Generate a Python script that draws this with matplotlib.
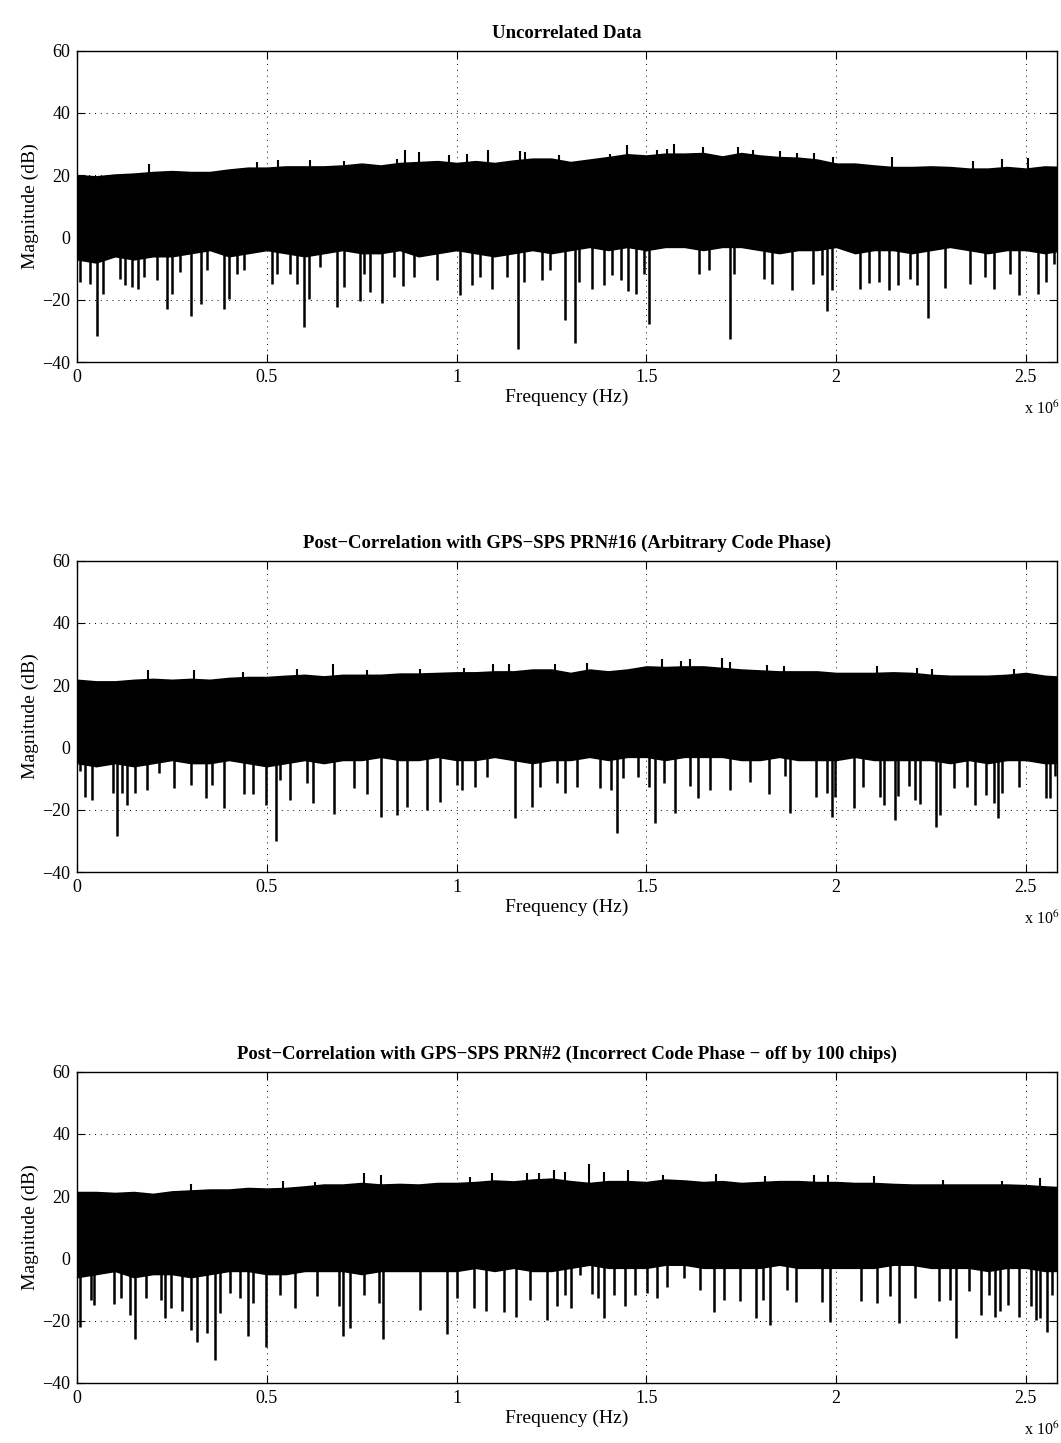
import numpy as np
import matplotlib.pyplot as plt

plt.rcParams['font.family'] = ['Liberation Serif', 'DejaVu Serif']
plt.rcParams['mathtext.fontset'] = 'stix'
plt.rcParams['font.size'] = 13

# frequency grid (MHz) of the envelope readings
f_env = np.round(np.arange(0, 2.61, 0.05), 2)

titles = ['Uncorrelated Data',
          'Post\u2212Correlation with GPS\u2212SPS PRN#16 (Arbitrary Code Phase)',
          'Post\u2212Correlation with GPS\u2212SPS PRN#2 (Incorrect Code Phase \u2212 off by 100 chips)']

# ---- panel 1: uncorrelated data
top1 = [20.0, 19.6, 20.2, 20.5, 21.0, 21.3, 21.0, 21.0, 21.8, 22.4, 22.4, 22.8, 22.8, 22.8,
        23.1, 23.7, 23.1, 23.9, 24.2, 24.5, 23.9, 24.5, 23.9, 24.7, 25.3, 25.3, 24.2, 25.0,
        25.8, 26.7, 26.3, 26.9, 26.9, 27.1, 26.0, 27.1, 26.3, 25.8, 25.6, 25.0, 23.7, 23.7,
        23.1, 22.6, 22.6, 22.8, 22.6, 22.1, 22.1, 22.6, 22.1, 22.8, 22.6]
bot1 = [-7, -8, -6, -7, -6, -6, -5, -4, -6, -5, -4, -5, -6, -5, -4, -5, -5, -4, -6, -5,
        -4, -5, -6, -5, -4, -5, -4, -3, -4, -3, -4, -3, -3, -4, -3, -3, -4, -5, -4, -4,
        -3, -5, -4, -4, -5, -4, -3, -4, -5, -4, -4, -5, -4]
peak1_f = [0.19, 0.474, 0.53, 0.615, 0.703, 0.843, 0.865, 0.9, 0.98, 1.027, 1.083, 1.166,
           1.181, 1.269, 1.405, 1.449, 1.528, 1.554, 1.572, 1.649, 1.741, 1.78, 1.853,
           1.897, 1.941, 1.993, 2.147, 2.362, 2.437, 2.505]
peak1_v = [23.7, 24.2, 25.0, 25.0, 24.7, 25.3, 28.2, 27.4, 26.4, 26.9, 28.2, 27.7, 27.4,
           26.4, 26.9, 29.6, 28.2, 28.5, 29.9, 29.2, 29.2, 28.0, 27.7, 27.1, 27.1, 26.0,
           26.0, 24.7, 25.3, 25.6]
dip1_f = [0.009, 0.035, 0.053, 0.068, 0.114, 0.127, 0.145, 0.161, 0.176, 0.211, 0.237,
          0.25, 0.272, 0.299, 0.327, 0.342, 0.386, 0.4, 0.421, 0.439, 0.514, 0.527, 0.562,
          0.58, 0.597, 0.612, 0.641, 0.685, 0.703, 0.746, 0.755, 0.773, 0.803, 0.834,
          0.859, 0.887, 0.948, 1.008, 1.041, 1.063, 1.093, 1.133, 1.161, 1.177, 1.225,
          1.247, 1.286, 1.313, 1.322, 1.357, 1.389, 1.41, 1.432, 1.452, 1.473, 1.495,
          1.506, 1.638, 1.664, 1.72, 1.73, 1.809, 1.831, 1.884, 1.939, 1.963, 1.976,
          1.989, 2.064, 2.086, 2.112, 2.14, 2.163, 2.195, 2.213, 2.242, 2.286, 2.352,
          2.393, 2.415, 2.459, 2.481, 2.532, 2.553, 2.575]
dip1_v = [-14.3, -14.8, -31.7, -18.0, -13.2, -15.3, -15.9, -16.7, -12.7, -13.7, -23.1,
          -18.0, -11.0, -25.3, -21.5, -10.5, -23.1, -19.9, -11.6, -10.5, -14.8, -11.6,
          -11.6, -15.0, -28.7, -19.6, -9.4, -22.3, -15.9, -20.3, -11.6, -17.5, -21.0,
          -12.7, -15.6, -12.7, -13.7, -18.5, -15.3, -12.7, -16.7, -12.7, -35.9, -14.3,
          -13.5, -10.5, -26.5, -34.0, -14.3, -16.7, -15.3, -12.1, -13.5, -17.2, -18.2,
          -11.6, -27.8, -11.6, -10.5, -32.7, -11.6, -13.2, -14.8, -16.9, -15.0, -12.1,
          -23.7, -16.9, -16.7, -14.6, -14.3, -16.9, -15.3, -13.2, -15.3, -26.0, -16.1,
          -15.0, -12.7, -16.7, -11.8, -18.5, -18.0, -14.3, -8.4]

# ---- panel 2: PRN#16, arbitrary code phase
top2 = [21.7, 21.2, 21.2, 21.7, 22.0, 21.7, 22.0, 21.7, 22.3, 22.6, 22.6, 23.0, 23.3, 22.8,
        23.3, 23.3, 23.3, 23.7, 23.7, 23.9, 24.1, 24.1, 24.4, 24.4, 25.0, 25.0, 23.9, 25.0,
        24.4, 25.0, 26.0, 25.8, 26.0, 26.0, 25.5, 25.0, 24.7, 24.4, 24.4, 24.4, 23.9, 23.9,
        23.9, 24.1, 23.9, 23.3, 23.0, 23.0, 23.0, 23.3, 23.9, 23.0, 22.6]
bot2 = [-5, -6, -5, -6, -5, -4, -5, -5, -4, -5, -6, -5, -4, -5, -4, -4, -3, -4, -4, -3,
        -4, -4, -3, -4, -5, -4, -4, -3, -4, -3, -3, -4, -3, -3, -3, -4, -4, -3, -4, -4,
        -4, -3, -4, -4, -4, -4, -5, -4, -5, -4, -4, -5, -5]
peak2_f = [0.187, 0.309, 0.436, 0.58, 0.674, 0.764, 0.903, 1.019, 1.096, 1.137, 1.26,
           1.345, 1.541, 1.591, 1.616, 1.699, 1.721, 1.818, 1.862, 2.109, 2.213, 2.253,
           2.468]
peak2_v = [25.0, 25.0, 24.1, 25.2, 26.8, 25.0, 25.2, 25.5, 26.9, 26.8, 26.9, 27.1, 28.4,
           27.6, 28.5, 28.7, 27.3, 26.6, 26.0, 26.0, 25.5, 25.2, 25.2]
dip2_f = [0.009, 0.022, 0.04, 0.095, 0.105, 0.119, 0.132, 0.154, 0.184, 0.215, 0.255,
          0.299, 0.341, 0.356, 0.386, 0.439, 0.464, 0.499, 0.523, 0.536, 0.562, 0.606,
          0.623, 0.676, 0.729, 0.764, 0.801, 0.843, 0.869, 0.922, 0.957, 1.001, 1.014,
          1.049, 1.08, 1.155, 1.199, 1.219, 1.264, 1.286, 1.317, 1.379, 1.408, 1.423,
          1.439, 1.477, 1.506, 1.524, 1.547, 1.575, 1.616, 1.636, 1.669, 1.721, 1.772,
          1.822, 1.866, 1.879, 1.948, 1.976, 1.989, 1.998, 2.046, 2.071, 2.116, 2.125,
          2.156, 2.163, 2.191, 2.209, 2.22, 2.264, 2.273, 2.312, 2.345, 2.367, 2.396,
          2.417, 2.426, 2.437, 2.483, 2.554, 2.564, 2.576]
dip2_v = [-7.7, -15.8, -16.8, -14.7, -28.4, -14.7, -18.5, -14.7, -13.6, -8.3, -13.1,
          -12.0, -16.3, -12.0, -19.5, -14.9, -14.9, -18.5, -30.2, -10.4, -16.8, -11.5,
          -17.7, -21.3, -13.1, -14.9, -22.2, -21.7, -19.0, -20.1, -17.4, -12.0, -13.8,
          -12.6, -9.6, -22.7, -19.0, -12.6, -11.5, -14.5, -12.6, -13.1, -13.6, -27.6,
          -9.9, -9.6, -12.6, -24.4, -11.5, -20.9, -12.4, -16.3, -13.6, -13.6, -11.0,
          -14.9, -9.1, -20.9, -15.8, -14.7, -22.2, -15.8, -19.5, -12.6, -15.8, -18.5,
          -23.3, -15.6, -12.4, -16.8, -18.1, -25.6, -21.7, -13.1, -12.6, -18.5, -15.2,
          -17.7, -22.7, -14.7, -12.6, -16.3, -16.3, -9.3]

# ---- panel 3: PRN#2, incorrect code phase
top3 = [21.3, 21.3, 21.0, 21.3, 20.7, 21.5, 21.8, 22.1, 22.1, 22.6, 22.4, 22.6, 23.1, 23.7,
        23.7, 24.2, 23.7, 23.9, 23.7, 24.2, 24.2, 24.5, 25.0, 24.7, 25.3, 25.6, 24.8, 24.2,
        24.8, 24.8, 24.5, 25.3, 25.0, 24.5, 24.8, 24.2, 24.5, 24.8, 24.8, 24.5, 24.5, 24.2,
        24.2, 23.9, 23.7, 23.7, 23.7, 23.7, 23.7, 23.7, 23.5, 23.1, 22.8]
bot3 = [-6, -5, -4, -6, -5, -5, -6, -5, -4, -4, -5, -5, -4, -4, -4, -5, -4, -4, -4, -4,
        -4, -3, -4, -3, -4, -4, -3, -2, -3, -3, -3, -2, -2, -3, -3, -3, -3, -2, -3, -3,
        -3, -3, -3, -2, -2, -3, -3, -3, -4, -3, -3, -4, -4]
peak3_f = [0.299, 0.544, 0.628, 0.755, 0.801, 1.036, 1.093, 1.185, 1.216, 1.257, 1.286,
           1.348, 1.388, 1.451, 1.544, 1.684, 1.813, 1.941, 1.979, 2.099, 2.283, 2.437,
           2.538]
peak3_v = [24.0, 24.8, 24.5, 27.4, 26.7, 26.3, 27.4, 27.4, 27.4, 28.5, 27.9, 30.3, 27.8,
           28.5, 26.7, 27.1, 26.4, 26.7, 26.9, 26.4, 25.3, 25.0, 25.8]
dip3_f = [0.009, 0.037, 0.046, 0.098, 0.116, 0.14, 0.154, 0.183, 0.22, 0.233, 0.248,
          0.277, 0.299, 0.316, 0.342, 0.363, 0.378, 0.404, 0.43, 0.45, 0.463, 0.498,
          0.536, 0.575, 0.632, 0.689, 0.701, 0.72, 0.755, 0.795, 0.806, 0.904, 0.975,
          1.001, 1.045, 1.078, 1.126, 1.157, 1.194, 1.238, 1.264, 1.286, 1.302, 1.326,
          1.357, 1.374, 1.388, 1.414, 1.445, 1.471, 1.502, 1.528, 1.554, 1.598, 1.641,
          1.679, 1.704, 1.748, 1.79, 1.807, 1.827, 1.871, 1.895, 1.963, 1.985, 2.066,
          2.109, 2.141, 2.165, 2.209, 2.27, 2.301, 2.317, 2.349, 2.382, 2.404, 2.419,
          2.433, 2.452, 2.483, 2.513, 2.527, 2.536, 2.556, 2.569]
dip3_v = [-21.9, -13.3, -15.1, -14.7, -12.8, -18.1, -25.8, -12.8, -13.3, -19.0, -16.0,
          -16.8, -22.9, -26.9, -24.0, -32.6, -17.6, -11.2, -12.8, -24.8, -14.4, -28.3,
          -11.7, -16.0, -12.2, -15.4, -24.8, -22.4, -11.7, -14.4, -25.8, -16.5, -24.3,
          -12.8, -16.0, -16.8, -17.3, -18.7, -13.3, -19.7, -15.4, -11.9, -15.8, -5.3,
          -11.5, -12.8, -19.0, -11.7, -15.4, -11.9, -11.2, -12.8, -9.3, -6.3, -10.1,
          -17.3, -13.3, -13.6, -19.2, -13.3, -21.3, -10.1, -14.0, -14.0, -20.5, -13.8,
          -14.4, -12.2, -20.8, -12.8, -13.6, -13.3, -25.4, -10.4, -18.3, -11.7, -18.7,
          -17.0, -14.9, -18.7, -15.4, -19.7, -19.2, -23.5, -11.7]

panels = [(top1, bot1, peak1_f, peak1_v, dip1_f, dip1_v),
          (top2, bot2, peak2_f, peak2_v, dip2_f, dip2_v),
          (top3, bot3, peak3_f, peak3_v, dip3_f, dip3_v)]

fig = plt.figure(figsize=(10.61, 14.43), dpi=100)
bottoms = [0.7491, 0.3957, 0.0416]

for k, (top, bot, pf, pv, df, dv) in enumerate(panels):
    ax = fig.add_axes([0.0726, bottoms[k], 0.9236, 0.2158])
    fz = f_env * 1e6
    ax.fill_between(fz, bot, top, facecolor='k', edgecolor='k', lw=1.2)
    ax.vlines(np.array(pf) * 1e6, 15, pv, color='k', lw=1.5)
    ax.vlines(np.array(df) * 1e6, dv, 0, color='k', lw=1.8)

    ax.set_xlim(0, 2.582e6)
    ax.set_ylim(-40, 60)
    ax.set_xticks([0, 0.5e6, 1e6, 1.5e6, 2e6, 2.5e6])
    ax.set_xticklabels(['0', '0.5', '1', '1.5', '2', '2.5'])
    ax.set_yticks([-40, -20, 0, 20, 40, 60])
    ax.grid(True, color='k', linestyle=(0, (1, 5)), lw=0.7)
    ax.tick_params(direction='in', top=True, right=True, length=6, labelsize=13, pad=5)
    for s in ax.spines.values():
        s.set_linewidth(1.0)
    ax.set_xlabel('Frequency (Hz)', fontsize=14, labelpad=2)
    ax.set_ylabel('Magnitude (dB)', fontsize=14, labelpad=2)
    ax.set_title(titles[k], fontsize=13.5, fontweight='bold', pad=9)
    ax.text(0.984, -0.15, r'x 10$^{6}$', transform=ax.transAxes,
            ha='center', va='center', fontsize=11.5)

fig.savefig('out.png', dpi=100)
